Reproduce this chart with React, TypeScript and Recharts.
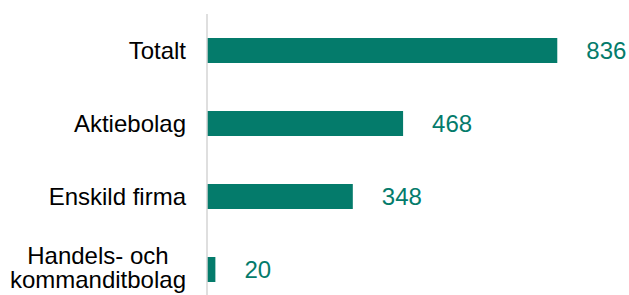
import React from "react";
import { BarChart, Bar, XAxis, YAxis, LabelList } from "recharts";

const categories = ["Totalt", "Aktiebolag", "Enskild firma", "Handels- och\nkommanditbolag"];
const counts = [836, 468, 348, 20];

const GREEN = "#047B6B";
const FONT = "'Liberation Sans', Arial, sans-serif";
const FONT_SIZE = 24;

const data = categories.map((name, i) => ({ name, value: counts[i] }));

const measure = (text: string): number => {
  if (typeof document === "undefined") return text.length * 11;
  const canvas = document.createElement("canvas");
  const ctx = canvas.getContext("2d");
  if (!ctx) return text.length * 11;
  ctx.font = `${FONT_SIZE}px ${FONT}`;
  return ctx.measureText(text).width;
};

const CategoryTick = (props: any) => {
  const { x, y, payload } = props;
  const lines: string[] = String(payload.value).split("\n");
  if (lines.length === 1) {
    return (
      <text x={x} y={y} dy="0.355em" textAnchor="end" fill="#000" fontSize={FONT_SIZE} fontFamily={FONT}>
        {lines[0]}
      </text>
    );
  }
  const widest = Math.max(...lines.map(measure));
  const cx = x - widest / 2;
  const lineH = 24;
  const startDy = -((lines.length - 1) * lineH) / 2 + 0.355 * FONT_SIZE - 2;
  return (
    <text x={cx} y={y} textAnchor="middle" fill="#000" fontSize={FONT_SIZE} fontFamily={FONT}>
      {lines.map((line, i) => (
        <tspan key={i} x={cx} dy={i === 0 ? startDy : lineH}>
          {line}
        </tspan>
      ))}
    </text>
  );
};

const App = (): React.ReactElement => {
  return (
    <div
      style={{
        position: "fixed",
        left: 0,
        top: 0,
        width: 629,
        height: 295,
        overflow: "hidden",
        background: "#fff",
      }}
    >
      <BarChart
        width={629}
        height={306}
        data={data}
        layout="vertical"
        margin={{ top: 14, right: 3, left: 0, bottom: 0 }}
        barCategoryGap={24}
      >
        <XAxis type="number" domain={[0, 1000]} hide />
        <YAxis
          type="category"
          dataKey="name"
          width={207}
          axisLine={{ stroke: "#d4d4d4", strokeWidth: 1.5 }}
          tickLine={false}
          tickSize={0}
          tickMargin={21}
          tick={<CategoryTick />}
          interval={0}
        />
        <Bar dataKey="value" fill={GREEN} barSize={25} isAnimationActive={false}>
          <LabelList
            dataKey="value"
            position="right"
            offset={29}
            fill={GREEN}
            fontSize={FONT_SIZE}
            fontFamily={FONT}
          />
        </Bar>
      </BarChart>
    </div>
  );
};

export default App;
